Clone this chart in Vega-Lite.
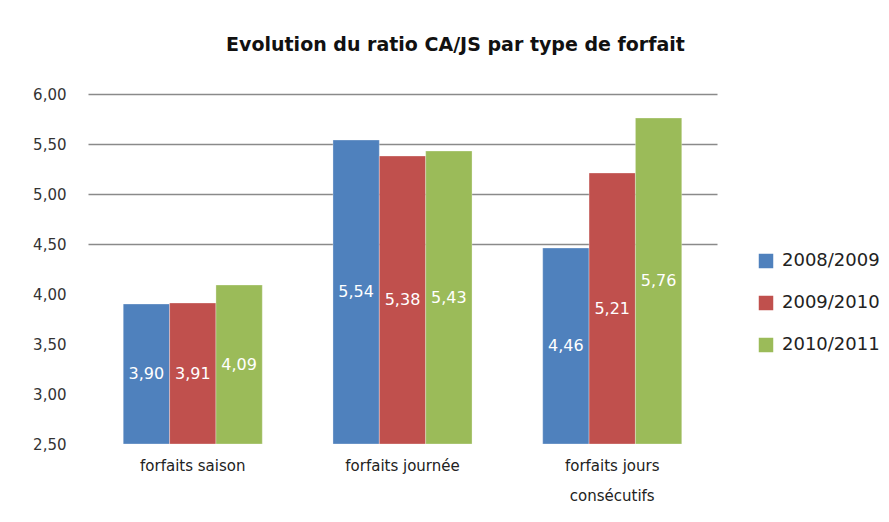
{
  "$schema": "https://vega.github.io/schema/vega-lite/v6.json",
  "width": 629,
  "height": 350,
  "autosize": "none",
  "padding": {"left": 88, "top": 94, "right": 172, "bottom": 78},
  "background": "white",
  "config": {
    "locale": {"number": {"decimal": ",", "thousands": " ", "grouping": [3], "currency": ["", " €"]}},
    "view": {"stroke": null},
    "font": "DejaVu Sans"
  },
  "title": {
    "text": "Evolution du ratio CA/JS par type de forfait",
    "fontSize": 19,
    "fontWeight": "bold",
    "font": "DejaVu Sans",
    "color": "#111111",
    "anchor": "middle",
    "dx": 53,
    "offset": 32
  },
  "data": {
    "values": [
      {"forfait": "forfaits saison", "saison": "2008/2009", "ratio": 3.90},
      {"forfait": "forfaits saison", "saison": "2009/2010", "ratio": 3.91},
      {"forfait": "forfaits saison", "saison": "2010/2011", "ratio": 4.09},
      {"forfait": "forfaits journée", "saison": "2008/2009", "ratio": 5.54},
      {"forfait": "forfaits journée", "saison": "2009/2010", "ratio": 5.38},
      {"forfait": "forfaits journée", "saison": "2010/2011", "ratio": 5.43},
      {"forfait": "forfaits jours consécutifs", "saison": "2008/2009", "ratio": 4.46},
      {"forfait": "forfaits jours consécutifs", "saison": "2009/2010", "ratio": 5.21},
      {"forfait": "forfaits jours consécutifs", "saison": "2010/2011", "ratio": 5.76}
    ]
  },
  "encoding": {
    "x": {
      "field": "forfait",
      "type": "nominal",
      "sort": null,
      "scale": {"paddingInner": 0.337, "paddingOuter": 0.168},
      "axis": {
        "title": null,
        "labelAngle": 0,
        "domain": false,
        "ticks": false,
        "labelFontSize": 15,
        "labelColor": "#222222",
        "labelPadding": 14,
        "labelLineHeight": 30,
        "labelExpr": "datum.value == 'forfaits jours consécutifs' ? ['forfaits jours', 'consécutifs'] : datum.value"
      }
    },
    "xOffset": {"field": "saison", "type": "nominal", "scale": {"paddingInner": 0, "paddingOuter": 0}},
    "color": {
      "field": "saison",
      "type": "nominal",
      "scale": {"domain": ["2008/2009", "2009/2010", "2010/2011"], "range": ["#4F81BD", "#C0504D", "#9BBB59"]},
      "legend": {
        "title": null,
        "orient": "none",
        "legendX": 669,
        "legendY": 158,
        "symbolType": "square",
        "symbolSize": 210,
        "symbolStrokeWidth": 0,
        "labelFontSize": 18,
        "labelColor": "#222222",
        "rowPadding": 24,
        "labelOffset": 7,
        "padding": 0
      }
    }
  },
  "layer": [
    {
      "mark": {"type": "bar", "stroke": "#ffffff", "strokeWidth": 0.5, "strokeOpacity": 0.6},
      "encoding": {
        "y": {
          "field": "ratio",
          "type": "quantitative",
          "scale": {"domain": [2.5, 6], "nice": false, "zero": false},
          "axis": {
            "title": null,
            "values": [2.5, 3, 3.5, 4, 4.5, 5, 5.5, 6],
            "format": ".2f",
            "domain": false,
            "ticks": false,
            "labelFontSize": 15,
            "labelColor": "#333333",
            "labelPadding": 22,
            "gridColor": "#8a8a8a",
            "gridWidth": 1.5,
            "gridOpacity": {"condition": {"test": "datum.value >= 4.5", "value": 1}, "value": 0}
          }
        },
        "y2": {"datum": 2.5}
      }
    },
    {
      "transform": [{"calculate": "(datum.ratio + 2.5) / 2", "as": "mid"}],
      "mark": {"type": "text", "color": "white", "fontSize": 16, "baseline": "middle", "align": "center"},
      "encoding": {
        "y": {"field": "mid", "type": "quantitative"},
        "text": {"field": "ratio", "type": "quantitative", "format": ".2f"},
        "color": {"value": "white"}
      }
    }
  ]
}
